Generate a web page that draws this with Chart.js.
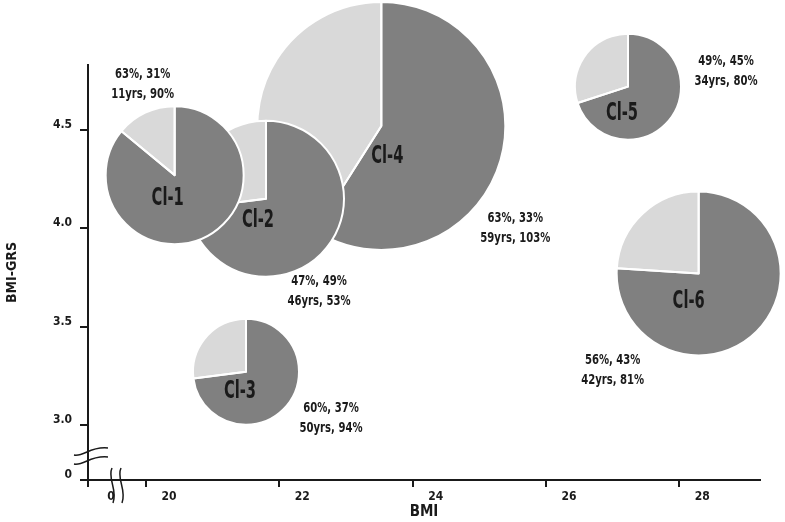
<!DOCTYPE html>
<html>
<head>
<meta charset="utf-8">
<script src="https://cdn.jsdelivr.net/npm/chart.js@4.4.1/dist/chart.umd.min.js"></script>
<style>
html, body { margin: 0; padding: 0; background: #fff; }
</style>
</head>
<body>
<canvas id="myChart" width="785" height="522"></canvas>
<script>
// cluster data
const clusters = ['Cl-1', 'Cl-2', 'Cl-3', 'Cl-4', 'Cl-5', 'Cl-6'];
const bmi = [20.43, 21.80, 21.50, 23.53, 27.23, 28.29];
const bmiGrs = [4.27, 4.15, 3.27, 4.52, 4.72, 3.77];
const clusterSize = [69, 78, 53, 124, 53, 82];   // bubble radius
const lightShare = [14, 27, 27, 41, 30, 24];     // % of the light slice
const statsTop = ['63%, 31%', '47%, 49%', '60%, 37%', '63%, 33%', '49%, 45%', '56%, 43%'];
const statsBottom = ['11yrs, 90%', '46yrs, 53%', '50yrs, 94%', '59yrs, 103%', '34yrs, 80%', '42yrs, 81%'];
const xTicks = [20, 22, 24, 26, 28];
const yTicks = [3.0, 3.5, 4.0, 4.5];

const FONT = '"DejaVu Sans Condensed", "Liberation Sans", sans-serif';
const DARK = '#808080';
const LIGHT = '#d9d9d9';
const INK = '#1a1a1a';

// label placement, px from the pie centre
const nameOffset = [[-7, 24], [-8, 22], [-6, 20], [6, 31], [-6, 27], [-10, 28]];
const statsOffset = [[-32, -91], [53, 93], [85, 47], [134, 102], [98, -15], [-86, 97]];

// squeezed text to get close to the condensed face of the original
function narrowText(ctx, txt, x, y, squeeze) {
  ctx.save();
  ctx.translate(x, y);
  ctx.scale(squeeze, 1);
  ctx.fillText(txt, 0, 0);
  ctx.restore();
}

const piePlugin = {
  id: 'pies',
  afterDraw: (chart) => {
    const ctx = chart.ctx;
    const meta = chart.getDatasetMeta(0);
    const order = clusterSize.map((s, i) => i).sort((a, b) => clusterSize[b] - clusterSize[a]);
    ctx.save();
    order.forEach(i => {
      const {x, y} = meta.data[i];
      const r = clusterSize[i];
      const start = -Math.PI / 2;
      const mid = start + (1 - lightShare[i] / 100) * 2 * Math.PI;
      const end = start + 2 * Math.PI;
      ctx.lineWidth = 2;
      ctx.strokeStyle = '#fff';
      ctx.lineJoin = 'round';
      [[start, mid, DARK], [mid, end, LIGHT]].forEach(([a, b, col]) => {
        ctx.beginPath();
        ctx.moveTo(x, y);
        ctx.arc(x, y, r, a, b);
        ctx.closePath();
        ctx.fillStyle = col;
        ctx.fill();
      });
      [[start, mid], [mid, end]].forEach(([a, b]) => {
        ctx.beginPath();
        ctx.moveTo(x, y);
        ctx.arc(x, y, r, a, b);
        ctx.closePath();
        ctx.stroke();
      });
    });

    ctx.fillStyle = INK;
    ctx.textAlign = 'center';
    ctx.textBaseline = 'middle';
    clusters.forEach((name, i) => {
      const {x, y} = meta.data[i];
      ctx.font = 'bold 24px ' + FONT;
      narrowText(ctx, name, x + nameOffset[i][0], y + nameOffset[i][1], 0.68);
      ctx.font = 'bold 14px ' + FONT;
      const sx = x + statsOffset[i][0];
      const sy = y + statsOffset[i][1];
      narrowText(ctx, statsTop[i], sx, sy - 10, 0.8);
      narrowText(ctx, statsBottom[i], sx, sy + 10, 0.8);
    });

    // axis break marks
    const ox = chart.chartArea.left;
    const oy = chart.chartArea.bottom;
    ctx.strokeStyle = INK;
    ctx.lineWidth = 1.5;
    [-29, -20].forEach(dy => {
      ctx.beginPath();
      ctx.moveTo(ox - 14, oy + dy + 4);
      ctx.bezierCurveTo(ox - 4, oy + dy + 6, ox + 2, oy + dy - 5, ox + 20, oy + dy - 3);
      ctx.stroke();
    });
    [24, 33].forEach(dx => {
      ctx.beginPath();
      ctx.moveTo(ox + dx, oy - 12);
      ctx.bezierCurveTo(ox + dx - 5, oy - 2, ox + dx + 6, oy + 10, ox + dx + 1, oy + 23);
      ctx.stroke();
    });
    ctx.restore();
  }
};

const data = {
  datasets: [{
    data: bmi.map((v, i) => ({x: v, y: bmiGrs[i], r: clusterSize[i]})),
    backgroundColor: 'rgba(0,0,0,0)',
    borderWidth: 0
  }]
};

const tickFont = {family: FONT, size: 12, weight: 'bold'};

const config = {
  type: 'bubble',
  data: data,
  options: {
    responsive: false,
    animation: false,
    layout: { autoPadding: false, padding: {top: 65, right: 25, left: 0, bottom: 0} },
    plugins: { legend: {display: false}, tooltip: {enabled: false} },
    scales: {
      x: {
        type: 'linear',
        min: 19.13,
        max: 29.21,
        afterFit: (scale) => { scale.height = 42; },
        afterBuildTicks: (scale) => {
          scale.ticks = [{value: scale.min}].concat(xTicks.map(v => ({value: v})));
        },
        border: {display: true, color: INK, width: 2},
        grid: {drawOnChartArea: false, tickLength: 7, tickWidth: 2, tickColor: INK, lineWidth: 2, color: INK},
        ticks: {
          font: tickFont,
          color: INK,
          padding: 3,
          labelOffset: 23,
          maxRotation: 0,
          autoSkip: false,
          callback: (v, i) => i === 0 ? '0' : String(v)
        },
        title: {display: true, text: 'BMI', color: INK, font: {family: FONT, size: 15, weight: 'bold'}, padding: {top: 0, bottom: 1}}
      },
      y: {
        type: 'linear',
        min: 2.72,
        max: 4.83,
        afterFit: (scale) => { scale.width = 88; },
        afterBuildTicks: (scale) => {
          scale.ticks = [{value: scale.min}].concat(yTicks.map(v => ({value: v})));
        },
        border: {display: true, color: INK, width: 2},
        grid: {drawOnChartArea: false, tickLength: 8, tickWidth: 2, tickColor: INK, lineWidth: 2, color: INK},
        ticks: {
          font: tickFont,
          color: INK,
          padding: 8,
          labelOffset: -5,
          autoSkip: false,
          callback: (v, i) => i === 0 ? '0' : v.toFixed(1)
        },
        title: {display: true, text: 'BMI-GRS', color: INK, font: {family: FONT, size: 14, weight: 'bold'}, padding: {top: 4, bottom: 0}}
      }
    }
  },
  plugins: [piePlugin]
};

const ctx = document.getElementById('myChart').getContext('2d');
const myChart = new Chart(ctx, config);
</script>
</body>
</html>
